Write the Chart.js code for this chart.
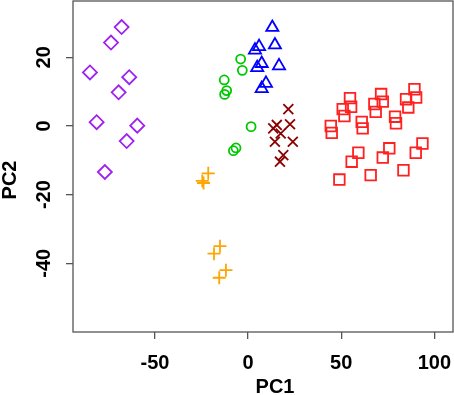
<!DOCTYPE html>
<html>
<head>
<meta charset="utf-8">
<script src="https://cdn.jsdelivr.net/npm/chart.js@4"></script>
<style>
  html, body { margin: 0; padding: 0; background: #fff; }
  #wrap { width: 454px; height: 395px; }
</style>
</head>
<body>
<div id="wrap"><canvas id="pca" width="454" height="395"></canvas></div>
<script>
const X_TICKS = [-50, 0, 50, 100];
const Y_TICKS = [-40, -20, 0, 20];

// group 1: purple diamonds
const diamondX = [-67.9, -73.6, -84.9, -63.8, -69.5, -81.3, -59.5, -65.2, -76.9];
const diamondY = [28.8, 24.3, 15.6, 14.2, 9.8, 1.1, 0.1, -4.4, -13.4];
// group 2: green circles
const circleX = [-4.0, -3.1, -12.8, -11.5, -12.6, 1.6, -7.9, -6.5];
const circleY = [19.5, 16.2, 13.4, 10.3, 9.2, -0.2, -7.2, -6.4];
// group 3: blue triangles
const triX = [13.0, 5.9, 3.7, 14.4, 7.3, 4.9, 16.6, 9.6, 7.3];
const triY = [28.7, 23.1, 22.1, 23.6, 18.2, 17.0, 17.5, 12.4, 10.9];
// group 4: dark red crosses
const crossX = [21.6, 15.4, 22.5, 17.5, 13.5, 14.4, 24.0, 18.9, 17.1];
const crossY = [4.9, 0.3, 0.5, -2.2, -0.7, -4.6, -4.6, -8.5, -10.4];
// group 5: orange plus signs
const plusX = [-21.4, -24.6, -23.9, -15.1, -18.3, -11.9, -15.5];
const plusY = [-13.8, -16.0, -16.6, -35.0, -37.2, -42.0, -44.2];
// group 6: red squares
const squareX = [89.3, 90.2, 84.8, 86.0, 71.4, 72.3, 67.8, 68.5, 54.7, 55.3, 50.8, 51.7, 78.9, 79.4,
  61.0, 61.5, 44.4, 44.9, 93.6, 90.0, 75.8, 72.3, 59.2, 55.6, 83.4, 65.8, 49.0];
const squareY = [10.7, 8.3, 7.8, 5.4, 9.3, 7.1, 6.4, 4.1, 8.1, 5.6, 4.9, 2.9, 2.7, 0.8,
  1.2, -0.7, 0.0, -2.0, -5.1, -7.8, -6.5, -9.2, -7.8, -10.4, -12.9, -14.3, -15.6];

const FONT = '"Liberation Sans", Arial, sans-serif';
const AXIS_GREY = "#555";

function pts(xs, ys) {
  return xs.map((x, i) => ({ x, y: ys[i] }));
}

function group(label, xs, ys, style, colour, radius) {
  return {
    label,
    data: pts(xs, ys),
    pointStyle: style,
    pointRadius: radius,
    pointHoverRadius: radius,
    pointBorderColor: colour,
    pointBackgroundColor: "transparent",
    pointBorderWidth: 1.8,
    showLine: false,
  };
}

// labels may hang past the frame, like in R; don't let them shrink the plot
function noLabelPadding(s) {
  s.paddingLeft = 0;
  s.paddingRight = 0;
  s.paddingTop = 0;
  s.paddingBottom = 0;
}

// R-style frame plus axis titles
const framePlugin = {
  id: "frame",
  afterDraw(chart) {
    const { ctx, chartArea: a } = chart;
    ctx.save();
    ctx.strokeStyle = AXIS_GREY;
    ctx.lineWidth = 1.3;
    ctx.strokeRect(a.left, a.top, a.right - a.left, a.bottom - a.top);
    ctx.fillStyle = "#000";
    ctx.font = "bold 20px " + FONT;
    ctx.textAlign = "center";
    ctx.textBaseline = "middle";
    ctx.fillText("PC1", 275, 387);
    ctx.translate(10, 180);
    ctx.rotate(-Math.PI / 2);
    ctx.fillText("PC2", 0, 0);
    ctx.restore();
  },
};

const tickFont = { family: FONT, size: 20, weight: "bold" };

new Chart(document.getElementById("pca"), {
  type: "scatter",
  data: {
    datasets: [
      group("diamond", diamondX, diamondY, "rectRot", "#A020F0", 7),
      group("circle", circleX, circleY, "circle", "#00C800", 4.5),
      group("triangle", triX, triY, "triangle", "#0000FF", 7),
      group("cross", crossX, crossY, "crossRot", "#8B0000", 7),
      group("plus", plusX, plusY, "cross", "#FFA500", 6.5),
      group("square", squareX, squareY, "rect", "#FF2020", 7.5),
    ],
  },
  options: {
    responsive: false,
    animation: false,
    layout: { autoPadding: false, padding: { top: 1, right: 1, left: 0, bottom: 0 } },
    plugins: { legend: { display: false }, tooltip: { enabled: false } },
    scales: {
      x: {
        type: "linear",
        min: -94,
        max: 110,
        afterBuildTicks: (s) => { s.ticks = X_TICKS.map((v) => ({ value: v })); },
        afterFit: (s) => { s.height = 63; noLabelPadding(s); },
        border: { display: false },
        grid: { drawOnChartArea: false, drawTicks: true, tickLength: 7, color: AXIS_GREY, lineWidth: 1.3 },
        ticks: { font: tickFont, color: "#000", padding: 12, maxRotation: 0 },
      },
      y: {
        type: "linear",
        min: -60,
        max: 36.4,
        afterBuildTicks: (s) => { s.ticks = Y_TICKS.map((v) => ({ value: v })); },
        afterFit: (s) => { s.width = 73; noLabelPadding(s); },
        border: { display: false },
        grid: { drawOnChartArea: false, drawTicks: true, tickLength: 7, color: AXIS_GREY, lineWidth: 1.3 },
        ticks: { font: tickFont, color: "#000", padding: 7, minRotation: 90, maxRotation: 90, crossAlign: "center" },
      },
    },
  },
  plugins: [framePlugin],
});
</script>
</body>
</html>
